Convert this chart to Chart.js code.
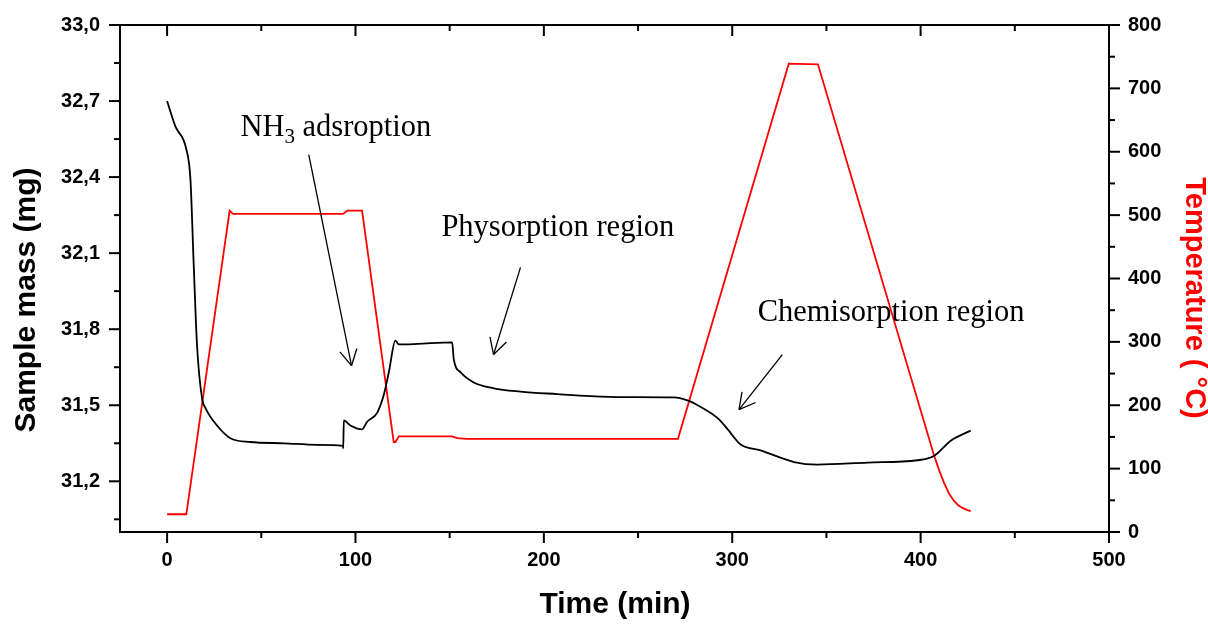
<!DOCTYPE html>
<html>
<head>
<meta charset="utf-8">
<script src="https://cdn.jsdelivr.net/npm/chart.js@4.4.1/dist/chart.umd.min.js"></script>
<style>
  html, body { margin: 0; padding: 0; background: #fff; }
  #wrap { width: 1208px; height: 624px; }
</style>
</head>
<body>
<div id="wrap"><canvas id="tga" width="1208" height="624"></canvas></div>
<script>
// mass curve (black)
const timeMass = [0, 4.4, 10.2, 12.4, 14.1, 15.9, 18.6, 20.3, 26.5, 33.6, 44.2, 61.9, 79.7, 93.4, 93.5, 93.8,
  97.3, 103.5, 106.2, 111.5, 115.0, 117.7, 121.2, 123.0, 132.8, 151.3, 152.2, 155.8, 162.8, 173.4, 187.6,
  207.1, 224.8, 242.5, 269.0, 276.2, 283.3, 292.1, 297.4, 304.5, 315.0, 332.8, 345.2, 371.8, 398.3, 407.1,
  416.0, 426.6];
const mass = [32.70, 32.60, 32.51, 32.39, 32.06, 31.735, 31.525, 31.49, 31.42, 31.37, 31.355, 31.35, 31.344,
  31.34, 31.33, 31.44, 31.42, 31.405, 31.435, 31.47, 31.54, 31.63, 31.755, 31.74, 31.742, 31.748, 31.68,
  31.63, 31.59, 31.567, 31.554, 31.544, 31.536, 31.532, 31.531, 31.519, 31.493, 31.45, 31.407, 31.345,
  31.322, 31.276, 31.266, 31.274, 31.283, 31.30, 31.36, 31.40];

// temperature programme (red)
const timeTemp = [0, 10.2, 33.2, 35.0, 93.4, 95.6, 103.5, 120.3, 121.2, 123.0, 151.3, 154.0, 159.3, 271.2,
  330.0, 345.5, 407.1, 410.0, 412.4, 415.0, 417.7, 420.0, 422.2, 424.5, 426.6];
const temp = [28, 28, 507, 502, 502, 507, 507, 142, 142, 151, 151, 148, 147, 147, 739, 738, 121, 96, 78, 61,
  49, 42, 38, 35, 33];

// ticks
const timeTicks = [0, 100, 200, 300, 400, 500];
const timeMinor = [50, 150, 250, 350, 450];
const massTicks = [31.2, 31.5, 31.8, 32.1, 32.4, 32.7, 33.0];
const massMinor = [31.05, 31.35, 31.65, 31.95, 32.25, 32.55, 32.85];
const tempTicks = [0, 100, 200, 300, 400, 500, 600, 700, 800];
const tempMinor = [50, 150, 250, 350, 450, 550, 650, 750];

// annotations (time, mass)
const notes = [
  { text: ['NH', '3', ' adsroption'], at: [38.9, 32.561] },
  { text: ['Physorption region'], at: [145.6, 32.168] },
  { text: ['Chemisorption region'], at: [313.5, 31.833] }
];
const arrows = [
  { from: [75.2, 32.489], to: [97.9, 31.656] },
  { from: [187.6, 32.044], to: [173.3, 31.70] },
  { from: [326.6, 31.70], to: [303.6, 31.483] }
];

const sans = '"Liberation Sans", Arial, sans-serif';
const serif = '"Liberation Serif", "Times New Roman", serif';

const frameAndNotes = {
  id: 'frameAndNotes',
  afterDatasetsDraw(chart) {
    const { ctx, chartArea: a, scales: { x, y, y2 } } = chart;
    ctx.save();
    ctx.strokeStyle = '#000';
    ctx.lineWidth = 2;
    ctx.strokeRect(a.left, a.top, a.right - a.left, a.bottom - a.top);

    const line = (x1, y1, x2, y2) => {
      ctx.beginPath();
      ctx.moveTo(x1, y1);
      ctx.lineTo(x2, y2);
      ctx.stroke();
    };

    // tick marks
    timeTicks.forEach(v => {
      const px = x.getPixelForValue(v);
      line(px, a.bottom, px, a.bottom + 11);
      line(px, a.top, px, a.top + 11);
    });
    timeMinor.forEach(v => {
      const px = x.getPixelForValue(v);
      line(px, a.bottom, px, a.bottom + 6);
      line(px, a.top, px, a.top + 6);
    });
    massTicks.forEach(v => { const py = y.getPixelForValue(v); line(a.left - 11, py, a.left, py); });
    massMinor.forEach(v => { const py = y.getPixelForValue(v); line(a.left - 6, py, a.left, py); });
    tempTicks.forEach(v => { const py = y2.getPixelForValue(v); line(a.right, py, a.right + 11, py); });
    tempMinor.forEach(v => { const py = y2.getPixelForValue(v); line(a.right, py, a.right + 6, py); });

    // arrows
    ctx.lineWidth = 1.3;
    arrows.forEach(ar => {
      const x1 = x.getPixelForValue(ar.from[0]), y1 = y.getPixelForValue(ar.from[1]);
      const x2 = x.getPixelForValue(ar.to[0]), y2p = y.getPixelForValue(ar.to[1]);
      line(x1, y1, x2, y2p);
      const ang = Math.atan2(y1 - y2p, x1 - x2);
      [-0.5, 0.5].forEach(d => {
        line(x2, y2p, x2 + 18 * Math.cos(ang + d), y2p + 18 * Math.sin(ang + d));
      });
    });

    // annotation texts
    ctx.fillStyle = '#000';
    ctx.textBaseline = 'alphabetic';
    ctx.textAlign = 'left';
    notes.forEach(n => {
      let px = x.getPixelForValue(n.at[0]);
      const py = y.getPixelForValue(n.at[1]);
      n.text.forEach((t, i) => {
        const sub = n.text.length > 1 && i === 1;
        ctx.font = sub ? `21px ${serif}` : `30.5px ${serif}`;
        ctx.fillText(t, px, sub ? py + 7 : py);
        px += ctx.measureText(t).width;
      });
    });

    // axis titles
    ctx.font = `bold 30px ${sans}`;
    ctx.textAlign = 'center';
    ctx.textBaseline = 'middle';
    ctx.fillText('Time (min)', 615, 605);

    ctx.save();
    ctx.translate(27, 300);
    ctx.rotate(-Math.PI / 2);
    ctx.fillText('Sample mass (mg)', 0, 0);
    ctx.restore();

    ctx.save();
    ctx.font = `bold 29px ${sans}`;
    ctx.fillStyle = '#ff0000';
    ctx.translate(1194, 298);
    ctx.rotate(Math.PI / 2);
    ctx.fillText('Temperature ( °C)', 0, 0);
    ctx.restore();

    ctx.restore();
  }
};

const toPoints = (xs, ys) => xs.map((t, i) => ({ x: t, y: ys[i] }));
const setTicks = list => scale => { scale.ticks = list.map(v => ({ value: v })); };
// fixed axis width, no extra label padding above/below
const fitY = w => s => { s.width = w; s.paddingTop = 0; s.paddingBottom = 0; };

new Chart(document.getElementById('tga'), {
  type: 'line',
  data: {
    datasets: [
      {
        label: 'Sample mass',
        data: toPoints(timeMass, mass),
        yAxisID: 'y',
        borderColor: '#000',
        borderWidth: 1.8,
        pointRadius: 0,
        cubicInterpolationMode: 'monotone'
      },
      {
        label: 'Temperature',
        data: toPoints(timeTemp, temp),
        yAxisID: 'y2',
        borderColor: '#ff0000',
        borderWidth: 1.8,
        pointRadius: 0,
        tension: 0
      }
    ]
  },
  options: {
    responsive: false,
    animation: false,
    devicePixelRatio: 1,
    layout: { padding: { top: 25, left: 0, right: 0, bottom: 0 } },
    plugins: { legend: { display: false }, tooltip: { enabled: false } },
    scales: {
      x: {
        type: 'linear',
        min: -25,
        max: 500,
        grid: { display: false, drawTicks: false },
        border: { display: false },
        afterBuildTicks: setTicks(timeTicks),
        afterFit: s => { s.height = 92; },
        ticks: { font: { family: sans, size: 20, weight: 'bold' }, color: '#000', padding: 16, maxRotation: 0 }
      },
      y: {
        type: 'linear',
        position: 'left',
        min: 31.0,
        max: 33.0,
        grid: { display: false, drawTicks: false },
        border: { display: false },
        afterBuildTicks: setTicks(massTicks),
        afterFit: fitY(120),
        ticks: {
          font: { family: sans, size: 20, weight: 'bold' },
          color: '#000',
          padding: 20,
          callback: v => v.toFixed(1).replace('.', ',')
        }
      },
      y2: {
        type: 'linear',
        position: 'right',
        min: 0,
        max: 800,
        grid: { display: false, drawTicks: false },
        border: { display: false },
        afterBuildTicks: setTicks(tempTicks),
        afterFit: fitY(99),
        ticks: { font: { family: sans, size: 20, weight: 'bold' }, color: '#000', padding: 19 }
      }
    }
  },
  plugins: [frameAndNotes]
});
</script>
</body>
</html>
